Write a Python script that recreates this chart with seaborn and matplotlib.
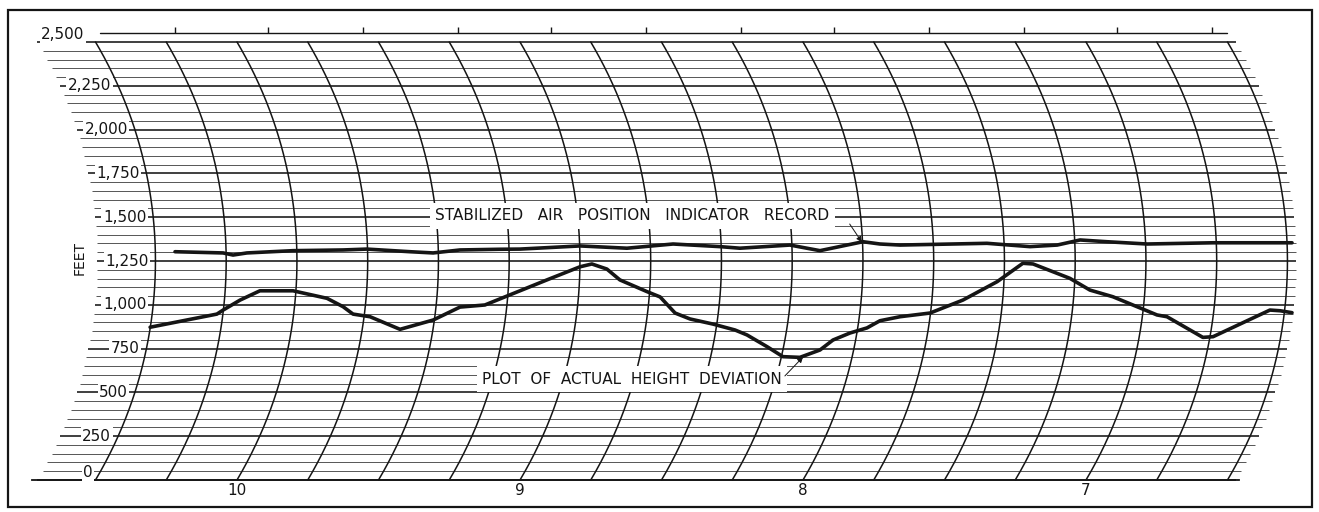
import numpy as np
import pandas as pd
import matplotlib
matplotlib.use("Agg")
import matplotlib.pyplot as plt
from matplotlib.patches import Rectangle
import seaborn as sns

# ---------------- data ----------------
# upper trace: stabilized air position indicator record (time, feet)
upper_t = [10.219, 10.049, 10.014, 9.965, 9.802, 9.625, 9.541, 9.389, 9.307, 9.212,
           9.071, 9.000, 8.788, 8.622, 8.459, 8.293, 8.223, 8.046, 7.940, 7.788,
           7.728, 7.657, 7.350, 7.198, 7.102, 7.021, 6.926, 6.784, 6.551, 6.272]
upper_ft = [1303, 1296, 1284, 1296, 1309, 1313, 1318, 1303, 1296, 1313,
            1317, 1318, 1336, 1323, 1347, 1332, 1323, 1341, 1309, 1360,
            1347, 1341, 1351, 1332, 1341, 1370, 1360, 1347, 1354, 1354]

# lower trace: plot of actual height deviation (time, feet)
lower_t = [10.307, 10.071, 10.049, 9.989, 9.919, 9.802, 9.682, 9.625, 9.590, 9.530,
           9.424, 9.307, 9.212, 9.124, 9.046, 8.905, 8.788, 8.746, 8.693, 8.647,
           8.551, 8.505, 8.452, 8.399, 8.318, 8.240, 8.198, 8.127, 8.071, 8.011,
           7.940, 7.894, 7.834, 7.774, 7.728, 7.657, 7.551, 7.435, 7.314, 7.223,
           7.187, 7.057, 6.986, 6.905, 6.749, 6.714, 6.587, 6.551, 6.350, 6.314, 6.272]
lower_ft = [872, 947, 970, 1027, 1080, 1080, 1037, 989, 947, 932,
            860, 913, 987, 999, 1050, 1142, 1217, 1233, 1204, 1142,
            1075, 1045, 953, 919, 890, 856, 828, 761, 704, 700,
            742, 799, 839, 868, 909, 932, 953, 1027, 1132, 1237,
            1233, 1151, 1084, 1046, 942, 932, 814, 818, 970, 966, 955]

y_tick_values = [2500, 2250, 2000, 1750, 1500, 1250, 1000, 750, 500, 250, 0]
y_tick_labels = ["2,500", "2,250", "2,000", "1,750", "1,500", "1,250",
                 "1,000", "750", "500", "250", "0"]
x_tick_values = [10, 9, 8, 7]
x_tick_labels = ["10", "9", "8", "7"]

arc_times = [10.5, 10.25, 10.0, 9.75, 9.5, 9.25, 9.0, 8.75, 8.5, 8.25,
             8.0, 7.75, 7.5, 7.25, 7.0, 6.75, 6.5]
grid_feet = list(range(0, 2501, 50))
top_tick_times = [10.22, 9.89, 9.555, 9.22, 8.89, 8.555, 8.22, 7.89,
                  7.555, 7.22, 6.89, 6.555]

label_upper = "STABILIZED   AIR   POSITION   INDICATOR   RECORD"
label_lower = "PLOT  OF  ACTUAL  HEIGHT  DEVIATION"
y_axis_title = "FEET"

# ---------------- geometry / style ----------------
W, H, DPI = 1319, 512, 100
PX_T = 283.0      # pixels per time unit
PX_FT = 0.1752    # pixels per foot
R_PX = 430.0      # radius of recorder pen arc in pixels
T_LEFT, T_RIGHT = 10.705, 6.47
INK = "#151515"

def bulge(ft):
    dy = (np.asarray(ft, dtype=float) - 1250.0) * PX_FT
    return (np.sqrt(R_PX**2 - dy**2) - np.sqrt(R_PX**2 - (1250 * PX_FT)**2)) / PX_T

sns.set_style("white")
plt.rcParams["font.family"] = ["DejaVu Sans"]

fig = plt.figure(figsize=(W / DPI, H / DPI), dpi=DPI)
fig.patch.set_facecolor("white")
ax = fig.add_axes([0, 0, 1, 1])
ax.set_facecolor("white")
ax.set_xlim(10 + 237 / PX_T, 10 - (W - 237) / PX_T)
ax.set_ylim(-(H - 480) / PX_FT, 480 / PX_FT)

for s in ["left", "right", "top"]:
    ax.spines[s].set_visible(False)
ax.spines["bottom"].set_position(("data", 0))
ax.spines["bottom"].set_bounds(T_LEFT + 0.02, T_RIGHT - 0.01)
ax.spines["bottom"].set_linewidth(1.3)
ax.spines["bottom"].set_color(INK)
ax.set_yticks([])
ax.set_xticks(x_tick_values)
ax.set_xticklabels(x_tick_labels)
ax.tick_params(axis="x", length=0, pad=2.5, labelsize=11, colors=INK)

# horizontal grid lines (every 50 ft, heavier every 250 ft)
for ft in grid_feet:
    b = float(bulge(ft))
    heavy = ft % 250 == 0
    ax.plot([T_LEFT - b, T_RIGHT - b], [ft, ft], color=INK if heavy else "#3a3a3a",
            lw=1.15 if heavy else 0.6, zorder=1, solid_capstyle="butt")

# curved time arcs
ff = np.linspace(0, 2500, 200)
for t in arc_times:
    ax.plot(t - bulge(ff), ff, color=INK, lw=1.1, zorder=1.2)

# top scale line with ticks
top_ft = 2551
ax.plot([10.484, 6.502], [top_ft, top_ft], color=INK, lw=1.0, zorder=1)
ax.vlines(top_tick_times, top_ft, top_ft + 34, color=INK, lw=1.0, zorder=1)

# y labels placed along the first arc
for v, lab in zip(y_tick_values, y_tick_labels):
    yv = v
    if v == 0:
        yv = 40
    if v == 2500:
        yv = 2540
    xr = arc_times[0] - float(bulge(yv)) + 7 / PX_T
    ax.text(xr, yv, lab, ha="right", va="center", fontsize=11, color=INK, zorder=4,
            bbox=dict(facecolor="white", edgecolor="none", pad=1.0))

ax.text(10.555, 1267, y_axis_title, rotation=90, ha="center", va="center",
        fontsize=10, color=INK, zorder=4)

# data traces
df_u = pd.DataFrame({"t": upper_t, "ft": upper_ft})
df_l = pd.DataFrame({"t": lower_t, "ft": lower_ft})
sns.lineplot(data=df_u, x="t", y="ft", ax=ax, sort=False, estimator=None,
             color=INK, lw=2.6, zorder=3)
sns.lineplot(data=df_l, x="t", y="ft", ax=ax, sort=False, estimator=None,
             color=INK, lw=2.6, zorder=3)
ax.set_xlabel("")
ax.set_ylabel("")

# annotations
box = dict(facecolor="white", edgecolor="none", pad=4.0)
ax.text(9.30, 1507, label_upper, ha="left", va="center", fontsize=11,
        color=INK, zorder=5, bbox=box)
ax.annotate("", xy=(7.792, 1358), xytext=(7.835, 1461),
            arrowprops=dict(arrowstyle="-|>", lw=0.7, color=INK, mutation_scale=8,
                            shrinkA=0, shrinkB=0), zorder=5)
ax.text(9.134, 576, label_lower, ha="left", va="center", fontsize=11,
        color=INK, zorder=5, bbox=box)
ax.annotate("", xy=(8.0, 702), xytext=(8.064, 594),
            arrowprops=dict(arrowstyle="-|>", lw=0.7, color=INK, mutation_scale=8,
                            shrinkA=0, shrinkB=0), zorder=5)

# outer frame
fig.patches.append(Rectangle((8 / W, 1 - 507 / H), (1312 - 8) / W, (507 - 10) / H,
                             transform=fig.transFigure, fill=False,
                             edgecolor=INK, lw=1.6))

fig.savefig("out.png", dpi=DPI, facecolor="white")
